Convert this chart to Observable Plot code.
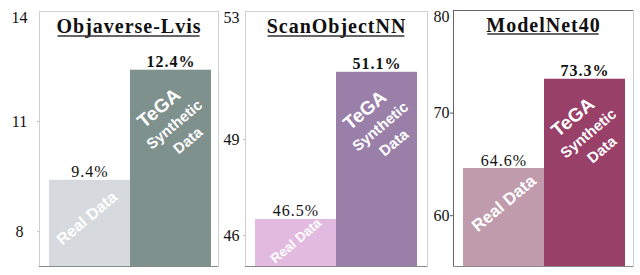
<!DOCTYPE html>
<html><head><meta charset="utf-8">
<script src="https://cdn.jsdelivr.net/npm/d3@7"></script>
<script src="https://cdn.jsdelivr.net/npm/@observablehq/plot@0.6"></script>
<style>
body{margin:0;background:#fff}
#row{display:flex;width:640px;height:275px;overflow:hidden}
#row svg{flex:none;display:block}
</style></head><body><div id="row"></div>
<script>
// ---- data ----
const datasets = ["Objaverse-Lvis", "ScanObjectNN", "ModelNet40"];
const barKeys = ["real", "tega"];
const realValues = [9.4, 46.5, 64.6];
const tegaValues = [12.4, 51.1, 73.3];
const yTicks = [[8, 11], [46, 49], [60, 70]];
const yMin = [7.05, 45.03, 55.05];
const yMax = [14, 53, 80];
const realLabel = "Real Data";
const tegaLabel = "TeGA";
const tegaSub = "Synthetic\nData";
const realColors = ["#d6d9dd", "#e3badf", "#bf9bab"];
const tegaColors = ["#7f918d", "#9a80a9", "#994069"];

// ---- layout / style per panel ----
const SERIF = "Liberation Serif";
const SANS = "Liberation Sans";
const layout = [
  {width: 222, marginLeft: 39, marginRight: 4, marginTop: 11, xRange: [48, 211], tickSize: 2, tickPadding: 18, anchor: "middle", tickColor: "#bbb", realFont: 16, realDx: -3, realDy: -5, dark: false},
  {width: 210, marginLeft: 23, marginRight: 5, marginTop: 11, xRange: [32, 195], tickSize: 2, tickPadding: 12, anchor: "middle", tickColor: "#bbb", realFont: 13.5, realDx: 0, realDy: -2, dark: false},
  {width: 208, marginLeft: 21, marginRight: 7, marginTop: 10, xRange: [30, 193], tickSize: 3, tickPadding: 1, anchor: "end", tickColor: "#555", realFont: 17, realDx: 0, realDy: -14, dark: true}
];

const row = document.getElementById("row");
datasets.forEach((name, i) => {
  const L = layout[i];
  const rows = [
    {key: barKeys[0], value: realValues[i], color: realColors[i]},
    {key: barKeys[1], value: tegaValues[i], color: tegaColors[i]}
  ];
  const real = [rows[0]], tega = [rows[1]];
  const lo = yMin[i];
  const marks = [
    Plot.frame({stroke: "#d0d0d0"}),
    Plot.barY(rows, {x: "key", y1: lo, y2: "value", fill: "color"}),
    Plot.ruleY([lo], {stroke: "#8a8a8a", strokeWidth: 1.2}),
    Plot.axisY(yTicks[i], {tickSize: L.tickSize, tickPadding: L.tickPadding, textAnchor: L.anchor, stroke: L.tickColor, fill: "#111", fontSize: 16, fontFamily: SERIF, label: null}),
    Plot.axisY([yMax[i]], {tickSize: 0, tickPadding: L.tickSize + L.tickPadding, textAnchor: L.anchor, fill: "#111", fontSize: 16, fontFamily: SERIF, dy: 6.5, label: null}),
    Plot.text(real, {x: "key", y: "value", text: d => d.value.toFixed(1) + "%", lineAnchor: "bottom", dy: -3, fontSize: 16, fontFamily: SERIF, fill: "#111", ariaLabel: () => "val"}),
    Plot.text(tega, {x: "key", y: "value", text: d => d.value.toFixed(1) + "%", lineAnchor: "bottom", dy: -3, fontSize: 16, fontWeight: "bold", fontFamily: SERIF, fill: "#111", ariaLabel: () => "val"}),
    Plot.text(real, {x: "key", y: d => (d.value + lo) / 2, text: () => realLabel, rotate: -40, fill: "white", fontFamily: SANS, fontWeight: "bold", fontSize: L.realFont, dx: L.realDx, dy: L.realDy}),
    Plot.text(tega, {x: "key", y: "value", text: () => tegaLabel, rotate: -40, fill: "white", fontFamily: SANS, fontWeight: "bold", fontSize: 19, dx: -12, dy: 38}),
    Plot.text(tega, {x: "key", y: "value", text: () => tegaSub, rotate: -40, fill: "white", fontFamily: SANS, fontWeight: "bold", fontSize: 15, lineHeight: 1.4, dx: 9, dy: 61}),
    Plot.text([name], {frameAnchor: "top", text: d => d, lineAnchor: "bottom", dy: 21, fontSize: 20, fontWeight: "bold", fontFamily: SERIF, fill: "#111", ariaLabel: () => "title"})
  ];
  if (L.dark) {
    marks.splice(1, 0, Plot.frame({anchor: "left", stroke: "#666"}), Plot.ruleY([yMax[i]], {stroke: "#666"}));
  }
  const svg = Plot.plot({
    width: L.width, height: 275,
    marginLeft: L.marginLeft, marginRight: L.marginRight, marginTop: L.marginTop, marginBottom: 9,
    x: {type: "band", domain: barKeys, range: L.xRange, padding: 0, axis: null},
    y: {domain: [lo, yMax[i]], range: [266, L.marginTop], axis: null},
    color: {type: "identity"},
    style: {fontFamily: SERIF, background: "transparent", color: "#111"},
    marks
  });
  row.appendChild(svg);
  const texts = Array.from(svg.querySelectorAll("text"));
  texts.filter(t => t.textContent.endsWith("%")).forEach(t => t.style.letterSpacing = "1px");
  texts.filter(t => t.textContent === name).forEach(t => {
    t.style.letterSpacing = "1px";
    const b = t.getBBox();
    const ln = document.createElementNS("http://www.w3.org/2000/svg", "line");
    const tr = t.getAttribute("transform");
    if (tr) ln.setAttribute("transform", tr);
    ln.setAttribute("x1", b.x + 1);
    ln.setAttribute("x2", b.x + b.width - 2);
    ln.setAttribute("y1", b.y + b.height - 1.5);
    ln.setAttribute("y2", b.y + b.height - 1.5);
    ln.setAttribute("stroke", "#333");
    ln.setAttribute("stroke-width", "1.3");
    t.parentNode.appendChild(ln);
  });
});
</script></body></html>
